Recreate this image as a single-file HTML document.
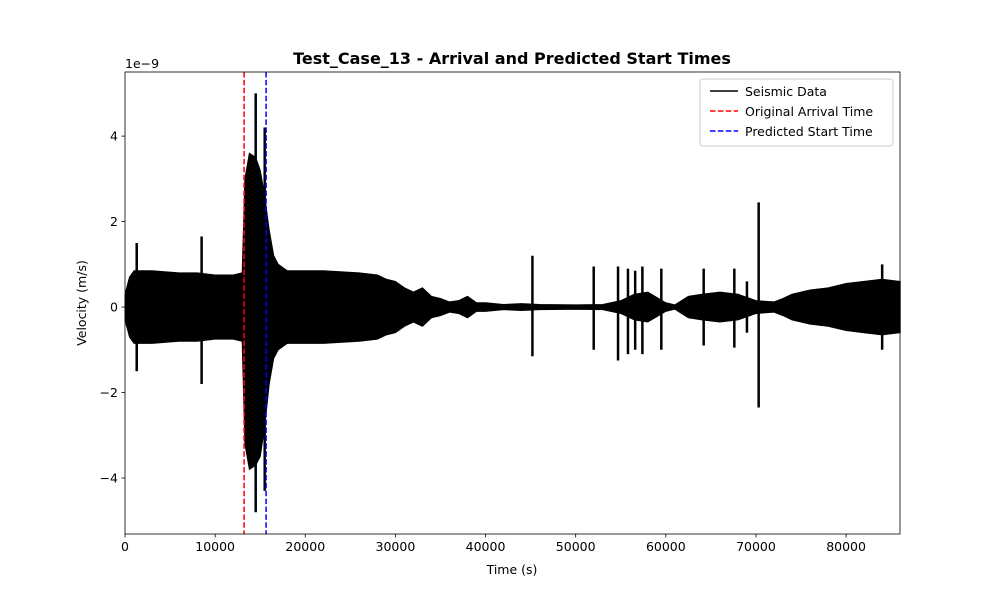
<!DOCTYPE html>
<html><head><meta charset="utf-8"><style>body{margin:0;background:#fff}svg text{font-family:"DejaVu Sans","Liberation Sans",sans-serif}</style></head>
<body>
<svg id="chart" width="1000" height="600" xmlns="http://www.w3.org/2000/svg">
<rect width="1000" height="600" fill="#fff"/>
<g id="plot"></g>
</svg>
<script>
const envTimes=[0,500,1000,3000,6000,8000,10000,12000,13000,13300,13800,14500,15000,15500,16000,16500,17000,18000,22000,26000,28000,29000,30000,31000,32000,33000,34000,35000,36000,37000,38000,39000,40000,42000,44000,46000,50000,53000,55000,56500,58000,60000,61000,62500,64000,66000,68000,70000,72000,73000,74000,76000,78000,80000,82000,84000,86000];
const envUpper=[0.3,0.7,0.85,0.85,0.8,0.8,0.75,0.75,0.8,3.0,3.6,3.5,3.2,2.6,1.8,1.2,1.0,0.85,0.85,0.8,0.75,0.65,0.6,0.45,0.35,0.45,0.25,0.2,0.12,0.15,0.25,0.1,0.1,0.06,0.08,0.06,0.05,0.06,0.15,0.3,0.35,0.1,0.05,0.25,0.3,0.35,0.3,0.15,0.12,0.2,0.3,0.4,0.45,0.55,0.6,0.65,0.6];
const envLower=[-0.3,-0.7,-0.85,-0.85,-0.8,-0.8,-0.75,-0.75,-0.8,-3.2,-3.8,-3.7,-3.5,-2.8,-1.8,-1.2,-1.0,-0.85,-0.85,-0.8,-0.75,-0.65,-0.6,-0.45,-0.35,-0.45,-0.25,-0.2,-0.12,-0.15,-0.25,-0.1,-0.1,-0.06,-0.08,-0.06,-0.05,-0.06,-0.15,-0.3,-0.35,-0.1,-0.05,-0.25,-0.3,-0.35,-0.3,-0.15,-0.12,-0.2,-0.3,-0.4,-0.45,-0.55,-0.6,-0.65,-0.6];
const spikeTimes=[1300,8500,14500,15500,45200,52000,54700,55800,56600,57400,59500,64200,67600,69000,70300,84000];
const spikeTops=[1.5,1.65,5.0,4.2,1.2,0.95,0.95,0.9,0.85,0.95,0.9,0.9,0.9,0.6,2.45,1.0];
const spikeBottoms=[-1.5,-1.8,-4.8,-4.3,-1.15,-1.0,-1.25,-1.1,-1.0,-1.1,-1.0,-0.9,-0.95,-0.6,-2.35,-1.0];
const arrivalTime=13213, predictedTime=15653;
const xTicks=[0,10000,20000,30000,40000,50000,60000,70000,80000];
const yTicks=[-4,-2,0,2,4];
const yTickLabels=["−4","−2","0","2","4"];

const L=125,R=900,T=72,B=534,xmin=0,xmax=85980,ymin=-5.31,ymax=5.5;
const X=v=>L+(v-xmin)/(xmax-xmin)*(R-L);
const Y=v=>B-(v-ymin)/(ymax-ymin)*(B-T);
const NS="http://www.w3.org/2000/svg";
const g=document.getElementById('plot');
function mk(tag,attrs,parent){const e=document.createElementNS(NS,tag);for(const k in attrs)e.setAttribute(k,attrs[k]);(parent||g).appendChild(e);return e;}

let d="M"+X(envTimes[0])+","+Y(envUpper[0]);
for(let i=1;i<envTimes.length;i++)d+="L"+X(envTimes[i])+","+Y(envUpper[i]);
for(let i=envTimes.length-1;i>=0;i--)d+="L"+X(envTimes[i])+","+Y(envLower[i]);
d+="Z";
const env=mk('path',{d:d,fill:"#000",stroke:"#000","stroke-width":1});


for(let i=0;i<spikeTimes.length;i++){
 const s=mk('line',{x1:X(spikeTimes[i]),x2:X(spikeTimes[i]),y1:Y(spikeTops[i]),y2:Y(spikeBottoms[i]),stroke:"#000","stroke-width":2.5});
 
 
}
const va=mk('line',{x1:X(arrivalTime),x2:X(arrivalTime),y1:T,y2:B,stroke:"red","stroke-width":1.5,"stroke-dasharray":"5.5,2.4"});


const vp=mk('line',{x1:X(predictedTime),x2:X(predictedTime),y1:T,y2:B,stroke:"blue","stroke-width":1.5,"stroke-dasharray":"5.5,2.4"});



const frame=mk('rect',{x:L,y:T,width:R-L,height:B-T,fill:"none",stroke:"#000","stroke-width":0.8});


xTicks.forEach(v=>{
 const t=mk('line',{x1:X(v),x2:X(v),y1:B,y2:B+3.5,stroke:"#000","stroke-width":0.8});
 
 
 const tl=mk('text',{x:X(v),y:B+17,"font-size":12.5,"text-anchor":"middle"});tl.textContent=v;
 
 
});
yTicks.forEach((v,i)=>{
 const t=mk('line',{x1:L-3.5,x2:L,y1:Y(v),y2:Y(v),stroke:"#000","stroke-width":0.8});
 
 
 const tl=mk('text',{x:L-7,y:Y(v)+4.5,"font-size":12.5,"text-anchor":"end"});tl.textContent=yTickLabels[i];
 
 
});
</script>
<svg style="position:absolute;left:0;top:0" width="1000" height="600" xmlns="http://www.w3.org/2000/svg">
<text x="512" y="64" font-size="16" font-weight="bold" text-anchor="middle" font-family="DejaVu Sans, Liberation Sans, sans-serif">Test_Case_13 - Arrival and Predicted Start Times</text>
<text x="125" y="68" font-size="12.5" font-family="DejaVu Sans, Liberation Sans, sans-serif">1e−9</text>
<text x="512" y="574" font-size="12.5" text-anchor="middle" font-family="DejaVu Sans, Liberation Sans, sans-serif">Time (s)</text>
<text transform="translate(86,303) rotate(-90)" font-size="12.5" text-anchor="middle" font-family="DejaVu Sans, Liberation Sans, sans-serif">Velocity (m/s)</text>
<g font-family="DejaVu Sans, Liberation Sans, sans-serif" font-size="12.5">
<rect x="700" y="79" width="193" height="67" rx="3" fill="#fff" fill-opacity="0.8" stroke="#ccc"/>
<line x1="710" y1="91" x2="738" y2="91" stroke="#000" stroke-width="1.5"/>
<text x="745" y="96">Seismic Data</text>
<line x1="710" y1="111" x2="738" y2="111" stroke="red" stroke-width="1.5" stroke-dasharray="5.5,2.4"/>
<text x="745" y="116">Original Arrival Time</text>
<line x1="710" y1="131" x2="738" y2="131" stroke="blue" stroke-width="1.5" stroke-dasharray="5.5,2.4"/>
<text x="745" y="136">Predicted Start Time</text>
</g>
</svg>
</body></html>
